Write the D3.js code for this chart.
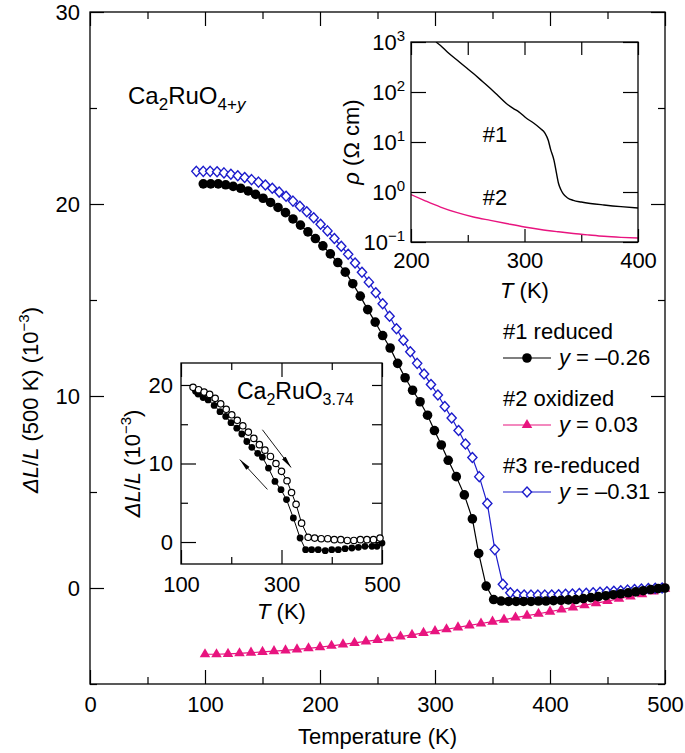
<!DOCTYPE html>
<html><head><meta charset="utf-8">
<script src="https://cdn.jsdelivr.net/npm/d3@7"></script>
<style>body{margin:0;background:#fff}</style>
</head><body><svg id="c" width="685" height="753"></svg>
<script>
// ---------- data ----------
// Main panel: #1 reduced (black filled circles)
const s1T = [98.5,105,111.5,118,124.5,131,137.5,144,150.5,157,163.5,170,176.5,183,189.5,196,202.5,209,215.5,222,228.5,235,241.5,248,254.5,261,267.5,274,280.5,287,293.5,299.5,305.5,311.5,318.5,325.5,332.5,338,344.5,351,357.5,364,370.5,377,383.5,390,396.5,403,409.5,416,422.5,429,435.5,442,448.5,455,461.5,468,474.5,481,487.5,494,500];
const s1V = [21.05,21.05,21.05,21.0,20.92,20.82,20.68,20.5,20.3,20.08,19.82,19.55,19.22,18.9,18.55,18.2,17.82,17.4,16.95,16.45,15.85,15.2,14.5,13.85,13.15,12.5,11.7,10.95,10.3,9.7,9.0,8.2,7.45,6.65,5.8,4.85,3.6,1.8,0.1,-0.6,-0.68,-0.7,-0.7,-0.7,-0.7,-0.68,-0.68,-0.66,-0.64,-0.62,-0.6,-0.55,-0.5,-0.45,-0.4,-0.35,-0.3,-0.25,-0.2,-0.14,-0.08,-0.03,0.0];
// #2 oxidized (pink triangles)
const s2T = [100,110,120,130,140,150,160,170,180,190,200,210,220,230,240,250,260,270,280,290,300,310,320,330,340,350,360,370,380,390,400,410,420,430,440,450,460,470,480,490,500];
const s2V = [-3.45,-3.45,-3.43,-3.4,-3.37,-3.33,-3.29,-3.25,-3.2,-3.14,-3.08,-3.01,-2.94,-2.86,-2.78,-2.7,-2.62,-2.53,-2.44,-2.34,-2.25,-2.15,-2.05,-1.95,-1.85,-1.75,-1.65,-1.54,-1.44,-1.34,-1.23,-1.12,-1.01,-0.9,-0.79,-0.68,-0.56,-0.44,-0.32,-0.18,-0.04];
// #3 re-reduced (blue open diamonds)
const s3T = [92.5,98.5,104.5,110.5,116.5,122.5,128.5,134.5,140.5,146.5,152.5,158.5,164.5,170.5,176.5,182.5,188.5,194.5,200.5,206.5,212.5,218.5,224.5,230.5,236.5,242.5,248.5,254.5,260.5,266.5,272.5,278.5,284.5,290.5,296.5,302.5,308.5,314.5,320.5,326.5,332.5,338.5,345.5,352,359,365.5,371.5,377.5,383.5,389.5,395.5,401.5,407.5,413.5,419.5,425.5,431.5,437.5,443.5,449.5,455.5,461.5,467.5,473.5,479.5,485.5,491.5,497.5];
const s3V = [21.7,21.7,21.7,21.68,21.62,21.55,21.47,21.38,21.27,21.14,20.99,20.82,20.62,20.4,20.15,19.88,19.6,19.28,18.95,18.6,18.2,17.8,17.38,16.93,16.45,15.93,15.38,14.8,14.15,13.5,12.9,12.3,11.7,11.15,10.6,10.05,9.45,8.85,8.2,7.5,6.8,5.8,4.4,2.0,0.2,-0.25,-0.34,-0.36,-0.37,-0.37,-0.37,-0.36,-0.35,-0.33,-0.31,-0.29,-0.27,-0.25,-0.22,-0.2,-0.17,-0.14,-0.11,-0.08,-0.05,-0.03,-0.01,0];
const mainXTicks = [0,100,200,300,400,500];
const mainXMinor = [50,150,250,350,450];
const mainYTicks = [0,10,20,30];
const mainYMinor = [-5,5,15,25];
const legendNames = ["#1 reduced","#2 oxidized","#3 re-reduced"];
const legendY = ["\u20130.26","0.03","\u20130.31"];

// Inset (top right): resistivity
const rho1T = [222,226,232,240,248,255,263,270,277,284,290,295,302,308,314,318,321,323,326,328,330,332,334,338,343,350,358,370,385,400];
const rho1 = [1000,851,631,447,316,234,162,117,83,59,47,40,29.5,24,18.6,15.1,10.7,7.1,4.3,2.5,1.48,1.12,0.93,0.76,0.68,0.63,0.59,0.55,0.51,0.48];
const rho2T = [200,213,226,240,255,270,284,300,314,330,343,357,370,385,400];
const rho2 = [0.89,0.66,0.5,0.39,0.316,0.27,0.234,0.2,0.178,0.16,0.148,0.138,0.13,0.124,0.12];
const rhoXTicks = [200,300,400];
const rhoXMinor = [250,350];
const rhoYTicks = [0.1,1,10,100,1000];
const rhoYExp = ["\u22121","0","1","2","3"];
const rhoLabels = ["#1","#2"];
const rhoLabelPos = [[274,10],[274,0.55]];

// Inset (bottom left): Ca2RuO3.74
const inOpenT = [124,135,146,157,168,179,190,201,212,223,234,245,256,267,278,289,300,311,320,329,340,353,366,379,392,405,418,431,444,457,470,483,496];
const inOpenV = [19.7,19.4,19.1,18.8,18.3,17.6,16.9,16.2,15.5,14.8,14.0,13.2,12.4,11.7,10.9,10.0,9.0,7.8,6.3,4.8,2.4,0.6,0.5,0.42,0.42,0.3,0.3,0.2,0.2,0.3,0.3,0.3,0.5];
const inFillT = [129,134,144,154,166,177.6,189,199.5,211,221,231,241,252.6,262,274,287,299,310,323.6,337,348,360,373,387,400,413,426.5,440,453,466,480,490,500];
const inFillV = [19.2,18.85,18.4,18.1,17.4,16.6,16.0,15.2,14.5,13.76,12.8,12.06,11.3,10.8,9.42,7.72,6.66,5.4,3.06,0.51,-0.97,-0.97,-0.97,-1.1,-0.97,-0.97,-0.85,-0.76,-0.68,-0.55,-0.55,-0.55,-0.13];
const inXTicks = [100,300,500];
const inXMinor = [200,400];
const inYTicks = [0,10,20];
const inYMinor = [5,15];
// arrows (data coords of inset): [T0,v0,T1,v1]
const inArrows = [[262,14.3,319,9.5],[272,6.7,217,10.5]];

// ---------- drawing ----------
const FONT = '"Liberation Sans", Arial, Helvetica, sans-serif';
const PINK = "#e8147f", BLUE = "#1c1ccc";
const svg = d3.select("#c").attr("font-family", FONT);
svg.append("rect").attr("width",685).attr("height",753).attr("fill","#fff");
const defs = svg.append("defs");
defs.append("marker").attr("id","ah").attr("viewBox","0 0 12 6").attr("refX",12).attr("refY",3)
  .attr("markerWidth",12).attr("markerHeight",6).attr("markerUnits","userSpaceOnUse").attr("orient","auto")
  .append("path").attr("d","M0,0.8 L12,3 L0,5.2 Z").attr("fill","#000");

function axis(gen, tr, scale, vals, size, fmt, pad, fs) {
  const a = gen(scale).tickValues(vals).tickSize(-size).tickPadding(pad || 8)
    .tickFormat(fmt || (() => ""));
  const g = svg.append("g").attr("transform", tr).call(a)
    .attr("font-family", FONT).attr("font-size", fs || 22);
  g.select(".domain").remove();
  g.selectAll("line").attr("stroke", "#000").attr("stroke-width", 1.2);
  g.selectAll("text").attr("fill", "#000");
  return g;
}

// Main panel
const L = 90, R = 665, T = 12, B = 684;
const x = d3.scaleLinear().domain([0,500]).range([L,R]);
const y = d3.scaleLinear().domain([-5,30]).range([B,T]);

axis(d3.axisBottom, `translate(0,${B})`, x, mainXTicks, 14, d3.format("d"), 12);
axis(d3.axisBottom, `translate(0,${B})`, x, mainXMinor, 7);
axis(d3.axisTop, `translate(0,${T})`, x, mainXTicks, 14);
axis(d3.axisTop, `translate(0,${T})`, x, mainXMinor, 7);
axis(d3.axisLeft, `translate(${L},0)`, y, mainYTicks, 14, d3.format("d"), 10);
axis(d3.axisLeft, `translate(${L},0)`, y, mainYMinor, 7);
axis(d3.axisRight, `translate(${R},0)`, y, mainYTicks, 14);
axis(d3.axisRight, `translate(${R},0)`, y, mainYMinor, 7);
svg.append("rect").attr("x",L).attr("y",T).attr("width",R-L).attr("height",B-T)
  .attr("fill","none").attr("stroke","#000").attr("stroke-width",1.3);

svg.append("text").attr("x",(L+R)/2).attr("y",744).attr("text-anchor","middle")
  .attr("font-size",22).text("Temperature (K)");
const yl = svg.append("text").attr("transform","translate(38,400) rotate(-90)")
  .attr("text-anchor","middle").attr("font-size",22);
yl.append("tspan").attr("font-style","italic").text("\u0394L");
yl.append("tspan").text("/");
yl.append("tspan").attr("font-style","italic").text("L");
yl.append("tspan").text(" (500 K) (10");
yl.append("tspan").attr("font-size",15).attr("dy",-9).text("\u22123");
yl.append("tspan").attr("dy",9).text(")");

// title
const tt = svg.append("text").attr("x",128).attr("y",104).attr("font-size",24);
tt.append("tspan").text("Ca");
tt.append("tspan").attr("font-size",17).attr("dy",6).text("2");
tt.append("tspan").attr("dy",-6).text("RuO");
const sub = tt.append("tspan").attr("font-size",17).attr("dy",6);
sub.append("tspan").text("4+");
sub.append("tspan").attr("font-style","italic").text("y");

// series
const line = d3.line().x(d => x(d[0])).y(d => y(d[1]));
const d1 = s1T.map((t,i) => [t, s1V[i]]);
const d2 = s2T.map((t,i) => [t, s2V[i]]);
const d3s = s3T.map((t,i) => [t, s3V[i]]);
svg.append("path").attr("d", line(d2)).attr("fill","none").attr("stroke",PINK).attr("stroke-width",1.2);
svg.append("path").attr("d", line(d3s)).attr("fill","none").attr("stroke",BLUE).attr("stroke-width",1.2);
svg.append("path").attr("d", line(d1)).attr("fill","none").attr("stroke","#000").attr("stroke-width",1.2);
const tri = d3.symbol().type(d3.symbolTriangle).size(48);
svg.append("g").selectAll("path").data(d2).join("path")
  .attr("d", tri).attr("transform", d => `translate(${x(d[0])},${y(d[1])})`).attr("fill",PINK);
const dia = d => `M0,-5 L4.6,0 L0,5 L-4.6,0 Z`;
svg.append("g").selectAll("path").data(d3s).join("path")
  .attr("d", dia).attr("transform", d => `translate(${x(d[0])},${y(d[1])})`)
  .attr("fill","#fff").attr("stroke",BLUE).attr("stroke-width",1.4);
svg.append("g").selectAll("circle").data(d1).join("circle")
  .attr("cx", d => x(d[0])).attr("cy", d => y(d[1])).attr("r",4.8).attr("fill","#000");

// legend
const lgX = 503, lgY0 = 339, lgDy = 67;
legendNames.forEach((n,i) => {
  const by = lgY0 + i*lgDy;
  svg.append("text").attr("x",lgX).attr("y",by).attr("font-size",22).text(n);
  const ly = by + 19;
  const col = i===0 ? "#000" : i===1 ? PINK : BLUE;
  svg.append("line").attr("x1",lgX).attr("x2",lgX+48).attr("y1",ly).attr("y2",ly)
    .attr("stroke",col).attr("stroke-width",1.2);
  if (i===0) svg.append("circle").attr("cx",lgX+24).attr("cy",ly).attr("r",4.8).attr("fill","#000");
  if (i===1) svg.append("path").attr("d",tri).attr("transform",`translate(${lgX+24},${ly})`).attr("fill",PINK);
  if (i===2) svg.append("path").attr("d",dia).attr("transform",`translate(${lgX+24},${ly})`)
    .attr("fill","#fff").attr("stroke",BLUE).attr("stroke-width",1.4);
  const t = svg.append("text").attr("x",lgX+56).attr("y",ly+7).attr("font-size",22);
  t.append("tspan").attr("font-style","italic").text("y");
  t.append("tspan").text(" = " + legendY[i]);
});

// ---------- Inset top-right ----------
const iL = 411, iR = 638, iT = 42, iB = 242;
const ix = d3.scaleLinear().domain([200,400]).range([iL,iR]);
const iy = d3.scaleLog().domain([0.1,1000]).range([iB,iT]);
svg.append("rect").attr("x",iL).attr("y",iT).attr("width",iR-iL).attr("height",iB-iT).attr("fill","#fff");
axis(d3.axisBottom, `translate(0,${iB})`, ix, rhoXTicks, 13, d3.format("d"), 10);
axis(d3.axisBottom, `translate(0,${iB})`, ix, rhoXMinor, 7);
axis(d3.axisTop, `translate(0,${iT})`, ix, rhoXTicks, 13);
axis(d3.axisTop, `translate(0,${iT})`, ix, rhoXMinor, 13);
const ga = axis(d3.axisLeft, `translate(${iL},0)`, iy, rhoYTicks, 15, () => "", 6);
ga.selectAll("text").each(function(d,i){
  const t = d3.select(this);
  t.append("tspan").text("10");
  t.append("tspan").attr("font-size",15).attr("dy",-9).text(rhoYExp[i]);
});
axis(d3.axisRight, `translate(${iR},0)`, iy, rhoYTicks, 15);
const c1 = svg.append("clipPath").attr("id","ic1");
c1.append("rect").attr("x",iL).attr("y",iT).attr("width",iR-iL).attr("height",iB-iT);
const rl = d3.line().x(d => ix(d[0])).y(d => iy(d[1])).curve(d3.curveMonotoneX);
svg.append("path").attr("clip-path","url(#ic1)").attr("d", rl(rho1T.map((t,i)=>[t,rho1[i]])))
  .attr("fill","none").attr("stroke","#000").attr("stroke-width",1.4);
svg.append("path").attr("clip-path","url(#ic1)").attr("d", rl(rho2T.map((t,i)=>[t,rho2[i]])))
  .attr("fill","none").attr("stroke",PINK).attr("stroke-width",1.4);
svg.append("rect").attr("x",iL).attr("y",iT).attr("width",iR-iL).attr("height",iB-iT)
  .attr("fill","none").attr("stroke","#000").attr("stroke-width",1.3);
rhoLabels.forEach((s,i) => {
  svg.append("text").attr("x",ix(rhoLabelPos[i][0])).attr("y",iy(rhoLabelPos[i][1]))
    .attr("text-anchor","middle").attr("font-size",22).text(s);
});
const ixl = svg.append("text").attr("x",(iL+iR)/2).attr("y",298).attr("text-anchor","middle").attr("font-size",22);
ixl.append("tspan").attr("font-style","italic").text("T");
ixl.append("tspan").text(" (K)");
const iyl = svg.append("text").attr("transform",`translate(359,${(iT+iB)/2}) rotate(-90)`)
  .attr("text-anchor","middle").attr("font-size",22);
iyl.append("tspan").attr("font-style","italic").text("\u03C1");
iyl.append("tspan").text(" (\u03A9 cm)");

// ---------- Inset bottom-left ----------
const bL = 181, bR = 382, bT = 363, bB = 564;
const bx = d3.scaleLinear().domain([100,500]).range([bL,bR]);
const by = d3.scaleLinear().domain([-2.8,22.8]).range([bB,bT]);
svg.append("rect").attr("x",bL).attr("y",bT).attr("width",bR-bL).attr("height",bB-bT).attr("fill","#fff");
axis(d3.axisBottom, `translate(0,${bB})`, bx, inXTicks, 14, d3.format("d"), 12);
axis(d3.axisBottom, `translate(0,${bB})`, bx, inXMinor, 7);
axis(d3.axisTop, `translate(0,${bT})`, bx, inXTicks, 14);
axis(d3.axisTop, `translate(0,${bT})`, bx, inXMinor, 7);
axis(d3.axisLeft, `translate(${bL},0)`, by, inYTicks, 15, d3.format("d"), 8);
axis(d3.axisLeft, `translate(${bL},0)`, by, inYMinor, 7);
axis(d3.axisRight, `translate(${bR},0)`, by, inYTicks, 10);
axis(d3.axisRight, `translate(${bR},0)`, by, inYMinor, 10);
svg.append("rect").attr("x",bL).attr("y",bT).attr("width",bR-bL).attr("height",bB-bT)
  .attr("fill","none").attr("stroke","#000").attr("stroke-width",1.3);
const bl = d3.line().x(d => bx(d[0])).y(d => by(d[1]));
const dOpen = inOpenT.map((t,i)=>[t,inOpenV[i]]);
const dFill = inFillT.map((t,i)=>[t,inFillV[i]]);
svg.append("path").attr("d",bl(dOpen)).attr("fill","none").attr("stroke","#000").attr("stroke-width",1);
svg.append("path").attr("d",bl(dFill)).attr("fill","none").attr("stroke","#000").attr("stroke-width",1);
svg.append("g").selectAll("circle").data(dFill).join("circle")
  .attr("cx",d=>bx(d[0])).attr("cy",d=>by(d[1])).attr("r",3.4).attr("fill","#000");
svg.append("g").selectAll("circle").data(dOpen).join("circle")
  .attr("cx",d=>bx(d[0])).attr("cy",d=>by(d[1])).attr("r",3.2).attr("fill","#fff")
  .attr("stroke","#000").attr("stroke-width",1.2);
inArrows.forEach(a => {
  svg.append("line").attr("x1",bx(a[0])).attr("y1",by(a[1])).attr("x2",bx(a[2])).attr("y2",by(a[3]))
    .attr("stroke","#000").attr("stroke-width",0.9).attr("marker-end","url(#ah)");
});
const bt = svg.append("text").attr("x",237).attr("y",399).attr("font-size",23);
bt.append("tspan").text("Ca");
bt.append("tspan").attr("font-size",16).attr("dy",6).text("2");
bt.append("tspan").attr("dy",-6).text("RuO");
bt.append("tspan").attr("font-size",16).attr("dy",6).text("3.74");
const bxl = svg.append("text").attr("x",(bL+bR)/2).attr("y",619).attr("text-anchor","middle").attr("font-size",22);
bxl.append("tspan").attr("font-style","italic").text("T");
bxl.append("tspan").text(" (K)");
const byl = svg.append("text").attr("transform",`translate(140,${(bT+bB)/2}) rotate(-90)`)
  .attr("text-anchor","middle").attr("font-size",22);
byl.append("tspan").attr("font-style","italic").text("\u0394L");
byl.append("tspan").text("/");
byl.append("tspan").attr("font-style","italic").text("L");
byl.append("tspan").text(" (10");
byl.append("tspan").attr("font-size",15).attr("dy",-9).text("\u22123");
byl.append("tspan").attr("dy",9).text(")");
</script></body></html>
